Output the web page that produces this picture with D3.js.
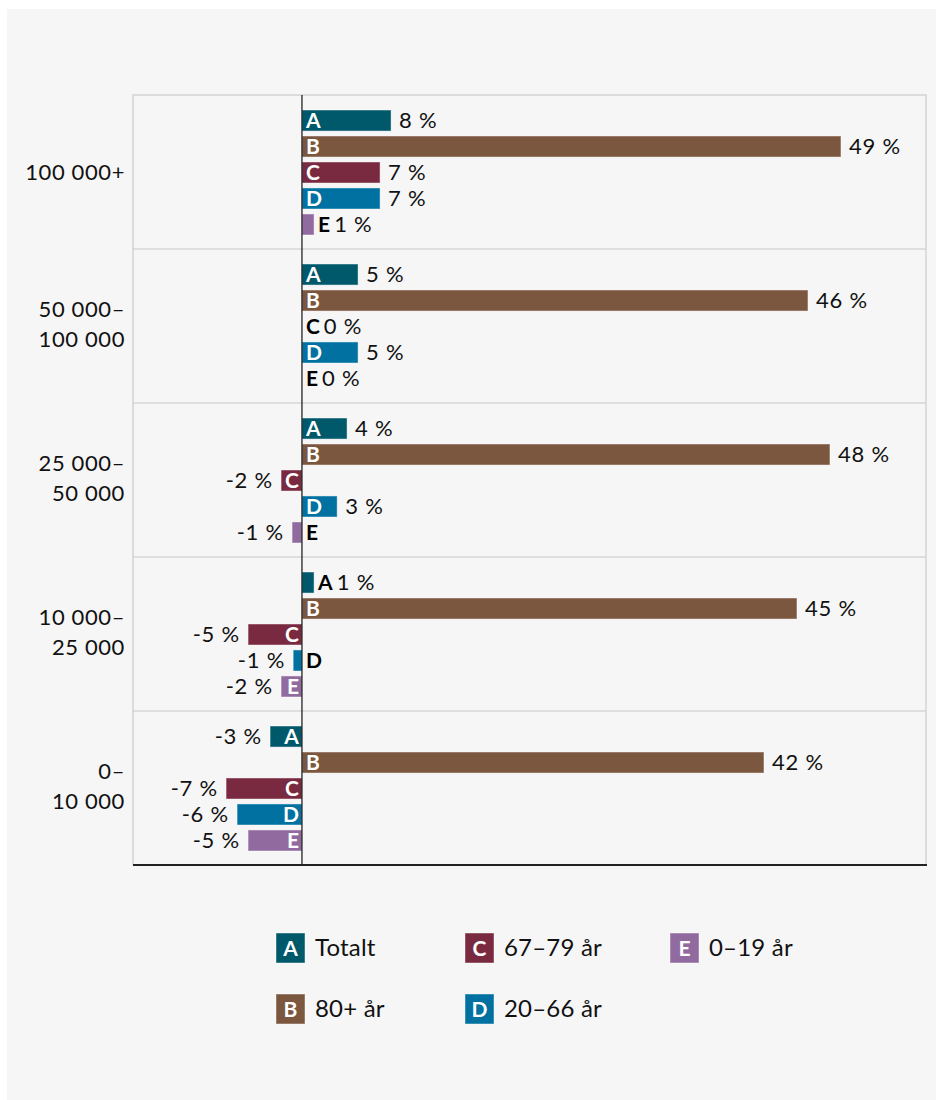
<!DOCTYPE html>
<html>
<head>
<meta charset="utf-8">
<script src="https://cdn.jsdelivr.net/npm/d3@7"></script>
<style>
    body { margin: 0; background: #fff; }
    svg { display: block; font-family: Lato, "Open Sans", sans-serif; }
</style>
</head>
<body>
<svg></svg>
<script>
var width = 939,
    height = 1100;

// kommunstorlek (rows, top to bottom)
var groups = ["100 000+", "50 000–100 000", "25 000–50 000", "10 000–25 000", "0–10 000"];
var groupLines = [["100 000+"], ["50 000–", "100 000"], ["25 000–", "50 000"], ["10 000–", "25 000"], ["0–", "10 000"]];

var series = ["A", "B", "C", "D", "E"];
var seriesNames = ["Totalt", "80+ år", "67–79 år", "20–66 år", "0–19 år"];
var colors = ["#00596a", "#7b5740", "#7a2a40", "#0071a0", "#916ba0"];

// change in % per group, series A..E
var valuesA = [8.1, 5.1, 4.1, 1.1, -2.9];
var valuesB = [49.0, 46.0, 48.0, 45.0, 42.0];
var valuesC = [7.1, 0, -1.9, -4.9, -6.9];
var valuesD = [7.1, 5.1, 3.2, -0.8, -5.9];
var valuesE = [1.1, 0, -0.9, -1.9, -4.9];

var allValues = [valuesA, valuesB, valuesC, valuesD, valuesE];

var svg = d3.select("svg")
    .attr("width", width)
    .attr("height", height);

// grey panel
svg.append("rect")
    .attr("x", 7)
    .attr("y", 9)
    .attr("width", 929)
    .attr("height", height - 9)
    .attr("fill", "#f6f6f6");

var plot = { left: 133, right: 926, top: 95, bottom: 865 };

var x = d3.scaleLinear()
    .domain([-15.36, 56.73])
    .range([plot.left, plot.right]);

var y = d3.scaleBand()
    .domain(groups)
    .range([plot.top, plot.bottom]);

var yInner = d3.scaleBand()
    .domain(series)
    .range([15, y.bandwidth() - 14])
    .paddingInner(0.19);

// box + group separators
svg.append("g")
    .selectAll("line")
    .data(groups.slice(1))
    .enter().append("line")
    .attr("x1", plot.left)
    .attr("x2", plot.right)
    .attr("y1", function(d) { return y(d); })
    .attr("y2", function(d) { return y(d); })
    .style("stroke", "#d6d6d6")
    .style("stroke-width", 1.5);

svg.append("path")
    .attr("d", "M" + plot.left + "," + plot.bottom + "V" + plot.top + "H" + plot.right + "V" + plot.bottom)
    .style("fill", "none")
    .style("stroke", "#d3d3d3")
    .style("stroke-width", 1.5);

// category labels
var cat = svg.append("g")
    .selectAll("text")
    .data(groups)
    .enter().append("text")
    .attr("text-anchor", "end")
    .style("font-size", "22px")
    .style("letter-spacing", "0.6px")
    .style("fill", "#111");

cat.each(function(d, i) {
    var lines = groupLines[i];
    var cy = y(d) + y.bandwidth() / 2;
    var first = lines.length === 1 ? cy + 8 : cy - 9;
    d3.select(this).selectAll("tspan")
        .data(lines)
        .enter().append("tspan")
        .attr("x", 125)
        .attr("y", function(l, j) { return first + j * 30; })
        .text(function(l) { return l; });
});

// bars
var rows = [];
groups.forEach(function(g, gi) {
    series.forEach(function(s, si) {
        rows.push({ group: g, key: s, color: colors[si], value: allValues[si][gi] });
    });
});

var zero = x(0);

var bar = svg.append("g")
    .selectAll("g")
    .data(rows)
    .enter().append("g")
    .attr("transform", function(d) {
        return "translate(0," + (y(d.group) + yInner(d.key)) + ")";
    });

bar.filter(function(d) { return d.value !== 0; })
    .append("rect")
    .attr("x", function(d) { return Math.min(x(d.value), zero); })
    .attr("width", function(d) { return Math.abs(x(d.value) - zero); })
    .attr("height", yInner.bandwidth())
    .attr("fill", function(d) { return d.color; })
    .style("stroke", "rgba(255,255,255,0.45)")
    .style("stroke-width", 1);

var mid = yInner.bandwidth() / 2 + 7.5;

bar.each(function(d) {
    var g = d3.select(this);
    var w = Math.abs(x(d.value) - zero);
    var label = Math.round(d.value) + " %";
    var inside = w > 16;
    var letterEnd;

    if (inside) {
        g.append("text")
            .attr("x", d.value > 0 ? zero + 4 : zero - 3)
            .attr("y", mid)
            .attr("text-anchor", d.value > 0 ? "start" : "end")
            .style("font-size", "21px")
            .style("font-weight", "bold")
            .style("fill", "#fff")
            .text(d.key);
    } else {
        var lx = Math.max(x(d.value), zero) + 4;
        var t = g.append("text")
            .attr("x", lx)
            .attr("y", mid)
            .style("font-size", "21px")
            .style("font-weight", "bold")
            .style("fill", "#000")
            .text(d.key);
        letterEnd = lx + t.node().getComputedTextLength();
    }

    // value label
    var vx, anchor;
    if (d.value < 0) {
        vx = x(d.value) - 8;
        anchor = "end";
    } else if (inside) {
        vx = x(d.value) + 8;
        anchor = "start";
    } else {
        vx = letterEnd + 4;
        anchor = "start";
    }
    g.append("text")
        .attr("x", vx)
        .attr("y", mid)
        .attr("text-anchor", anchor)
        .style("font-size", "22px")
        .style("letter-spacing", "0.8px")
        .style("fill", "#111")
        .text(label);
});

// zero line + bottom axis
svg.append("line")
    .attr("x1", zero).attr("x2", zero)
    .attr("y1", plot.top).attr("y2", plot.bottom)
    .style("stroke", "#111")
    .style("stroke-width", 1.2);

svg.append("line")
    .attr("x1", plot.left).attr("x2", plot.right + 1)
    .attr("y1", plot.bottom).attr("y2", plot.bottom)
    .style("stroke", "#222")
    .style("stroke-width", 2);

// legend
var legendPos = [[276, 933], [276, 994], [465, 933], [465, 994], [670, 933]];

var legend = svg.append("g")
    .selectAll("g")
    .data(series)
    .enter().append("g")
    .attr("transform", function(d, i) {
        return "translate(" + legendPos[i][0] + "," + legendPos[i][1] + ")";
    });

legend.append("rect")
    .attr("width", 29)
    .attr("height", 30)
    .attr("fill", function(d, i) { return colors[i]; })
    .style("stroke", "rgba(255,255,255,0.45)");

legend.append("text")
    .attr("x", 14.5)
    .attr("y", 23)
    .attr("text-anchor", "middle")
    .style("font-size", "21px")
    .style("font-weight", "bold")
    .style("fill", "#fff")
    .text(function(d) { return d; });

legend.append("text")
    .attr("x", 39)
    .attr("y", 23)
    .style("font-size", "24px")
    .style("letter-spacing", "0.2px")
    .style("fill", "#111")
    .text(function(d, i) { return seriesNames[i]; });
</script>
</body>
</html>
